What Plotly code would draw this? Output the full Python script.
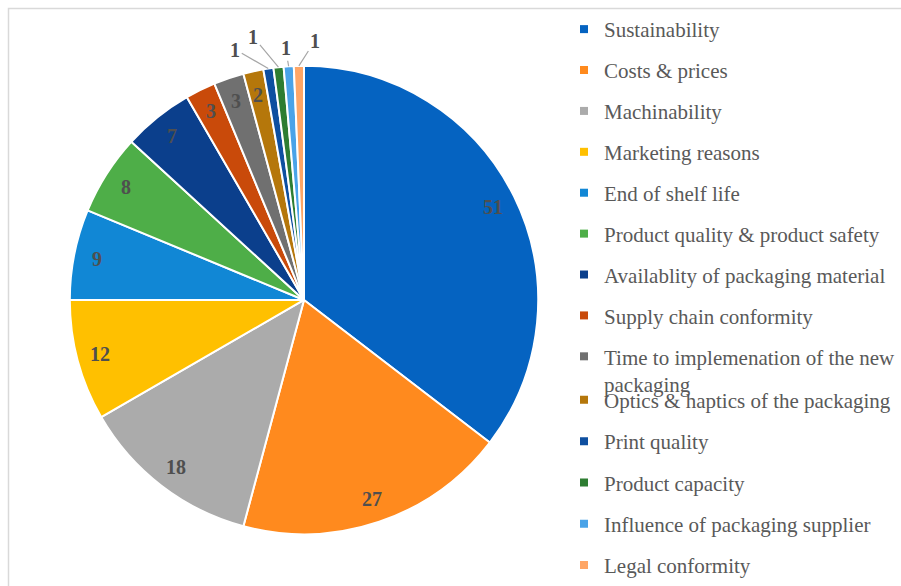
import math
import plotly.graph_objects as go

categories = [
    "Sustainability", "Costs & prices", "Machinability", "Marketing reasons",
    "End of shelf life", "Product quality & product safety",
    "Availablity of packaging material", "Supply chain conformity",
    "Time to implemenation of the new<br>packaging",
    "Optics & haptics of the packaging", "Print quality", "Product capacity",
    "Influence of packaging supplier", "Legal conformity",
]
values = [51, 27, 18, 12, 9, 8, 7, 3, 3, 2, 1, 1, 1, 1]
colors = [
    "#0563C1", "#FF8A1E", "#ABABAB", "#FFC000", "#1187D5", "#4EAE48",
    "#0B3F8C", "#C94A0A", "#707070", "#B5770B", "#0E4FA0", "#2E7D32",
    "#4AA3E8", "#FFA666",
]

W, H = 901, 586
CX, CY, R = 304, 301, 235          # pie centre / radius in pixels
LABEL_R = 211
label_font = dict(family="Liberation Serif, Times New Roman, serif", size=20, color="#4F4F4F")
# pixel offsets for the small slices that carry outside labels (index -> (ax, ay))
outside = {10: (-33, -19), 11: (-25, -30), 12: (-3, -18), 13: (16, -25)}

fig = go.Figure()
fig.add_trace(go.Pie(
    labels=categories, values=values, sort=False, direction="clockwise",
    rotation=0, textinfo="none", hoverinfo="label+value",
    marker=dict(colors=colors, line=dict(color="white", width=2)),
    domain=dict(x=[(CX - R) / W, (CX + R) / W], y=[1 - (CY + R) / H, 1 - (CY - R) / H]),
    showlegend=False,
))

# legend entries (one per category) so spacing can match the original
for i, (cat, col) in enumerate(zip(categories, colors)):
    fig.add_trace(go.Scatter(
        x=[None], y=[None], mode="markers", name=cat, legendgroup=cat,
        marker=dict(symbol="square", size=8, color=col),
        legend="legend" if i < 9 else "legend2", hoverinfo="skip",
    ))

total = sum(values)
cum = 0
annotations = []
for i, v in enumerate(values):
    mid = (cum + v / 2) / total * 2 * math.pi
    cum += v
    if i in outside:
        px = CX + R * math.sin(mid)
        py = CY - R * math.cos(mid)
        ax, ay = outside[i]
        annotations.append(dict(
            x=px / W, y=1 - py / H, xref="paper", yref="paper",
            text=f"<b>{v}</b>", showarrow=True, ax=ax, ay=ay,
            arrowhead=0, arrowwidth=1.2, arrowcolor="#A6A6A6", standoff=0,
            font=label_font,
        ))
    else:
        px = CX + LABEL_R * math.sin(mid)
        py = CY - LABEL_R * math.cos(mid)
        annotations.append(dict(
            x=px / W, y=1 - py / H, xref="paper", yref="paper",
            text=f"<b>{v}</b>", showarrow=False, font=label_font,
            xanchor="center", yanchor="middle",
        ))

legend_font = dict(family="Liberation Serif, Times New Roman, serif", size=21, color="#595959")
fig.update_layout(
    width=W, height=H, margin=dict(l=0, r=0, t=0, b=0),
    paper_bgcolor="white", plot_bgcolor="white",
    xaxis=dict(visible=False), yaxis=dict(visible=False),
    annotations=annotations,
    legend=dict(x=564 / W, y=1 - 9 / H, xanchor="left", yanchor="top",
                font=legend_font, tracegroupgap=10.6, valign="top",
                bgcolor="rgba(0,0,0,0)", itemclick=False),
    legend2=dict(x=564 / W, y=1 - 381 / H, xanchor="left", yanchor="top",
                 font=legend_font, tracegroupgap=11, valign="top",
                 bgcolor="rgba(0,0,0,0)", itemclick=False),
    shapes=[dict(type="rect", xref="paper", yref="paper",
                 x0=8.5 / W, x1=1.02, y0=-0.02, y1=1 - 8.5 / H,
                 line=dict(color="#D9D9D9", width=1.5), layer="below")],
    showlegend=True,
)

fig.write_html("out.html")
